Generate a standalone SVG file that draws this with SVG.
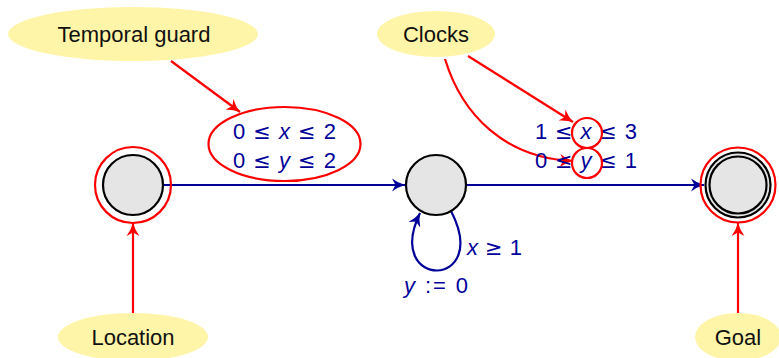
<svg xmlns="http://www.w3.org/2000/svg" width="779" height="358" viewBox="0 0 779 358">
<style>
.note{fill:#fff5a8;stroke:none}
.nt{font-family:"Liberation Sans",Arial,sans-serif;font-size:22px;fill:#111;text-anchor:middle}
.st{fill:#e5e5e5;stroke:#000;stroke-width:2.2}
.ring{fill:none;stroke:#000;stroke-width:2.2}
.red{fill:none;stroke:#f00;stroke-width:2.2}
.blue{fill:none;stroke:#000099;stroke-width:2.2}
.mt{font-family:"Liberation Sans",Arial,sans-serif;font-size:22px;fill:#000099}
.it{font-style:italic}
.op{font-family:"DejaVu Sans",sans-serif;font-size:21px}
</style>
<defs>
<marker id="ab" markerUnits="userSpaceOnUse" markerWidth="16" markerHeight="14" refX="13" refY="7" orient="auto">
<path d="M0,0.5 Q6,5 13,7 Q6,9 0,13.5 L3.5,7 Z" fill="#000099"/>
</marker>
<marker id="ar" markerUnits="userSpaceOnUse" markerWidth="16" markerHeight="14" refX="13" refY="7" orient="auto">
<path d="M0,0.5 Q6,5 13,7 Q6,9 0,13.5 L3.5,7 Z" fill="#f00"/>
</marker>
</defs>
<g id="connectors">
<line class="blue" x1="164" y1="185" x2="405" y2="185" marker-end="url(#ab)"/>
<line class="blue" x1="467" y1="185" x2="704" y2="185" marker-end="url(#ab)"/>
<path class="blue" d="M451,211 C492,290 383,290 420,213" marker-end="url(#ab)"/>
<line class="red" x1="171" y1="61" x2="240" y2="112" marker-end="url(#ar)"/>
<line class="red" x1="468" y1="56" x2="573" y2="122" marker-end="url(#ar)"/>
<path class="red" d="M445,59 C462,115 505,158 573,161" marker-end="url(#ar)"/>
<line class="red" x1="133" y1="313" x2="133" y2="223" marker-end="url(#ar)"/>
<line class="red" x1="738" y1="313" x2="738" y2="223" marker-end="url(#ar)"/>
</g>
<g id="temporal-guard">
<ellipse class="note" cx="133" cy="34" rx="125" ry="27"/>
<text class="nt" x="134" y="42">Temporal guard</text>
</g>
<g id="clocks">
<ellipse class="note" cx="436" cy="34" rx="59" ry="23"/>
<text class="nt" x="436" y="42">Clocks</text>
</g>
<g id="location-note">
<ellipse class="note" cx="133" cy="337" rx="75" ry="24"/>
<text class="nt" x="133" y="345">Location</text>
</g>
<g id="goal-note">
<ellipse class="note" cx="738" cy="337" rx="43" ry="24"/>
<text class="nt" x="738" y="345">Goal</text>
</g>
<g id="s0">
<circle class="red" cx="133" cy="185" r="38"/>
<circle class="st" cx="133" cy="185" r="30"/>
</g>
<g id="s1">
<circle class="st" cx="436" cy="185" r="30"/>
</g>
<g id="s2">
<circle class="red" cx="738" cy="185" r="37.5"/>
<circle class="st" cx="738" cy="185" r="32.5"/>
<circle class="ring" cx="738" cy="185" r="28.5"/>
</g>
<g id="guard-label">
<ellipse class="red" cx="284.5" cy="144" rx="76" ry="37"/>
<text class="mt" x="233" y="139" textLength="103" lengthAdjust="spacing">0 <tspan class="op">≤</tspan> <tspan class="it">x</tspan> <tspan class="op">≤</tspan> 2</text>
<text class="mt" x="233" y="168" textLength="103" lengthAdjust="spacing">0 <tspan class="op">≤</tspan> <tspan class="it">y</tspan> <tspan class="op">≤</tspan> 2</text>
</g>
<g id="invariant-label">
<text class="mt" x="535" y="139" textLength="102" lengthAdjust="spacing">1 <tspan class="op">≤</tspan> <tspan class="it">x</tspan> <tspan class="op">≤</tspan> 3</text>
<text class="mt" x="535" y="168" textLength="102" lengthAdjust="spacing">0 <tspan class="op">≤</tspan> <tspan class="it">y</tspan> <tspan class="op">≤</tspan> 1</text>
<circle class="red" cx="587" cy="133" r="15"/>
<circle class="red" cx="587" cy="163" r="15"/>
</g>
<g id="loop-label">
<text class="mt" x="467" y="255" textLength="55" lengthAdjust="spacing"><tspan class="it">x</tspan> <tspan class="op">≥</tspan> 1</text>
<text class="mt" x="404" y="293" textLength="64" lengthAdjust="spacing"><tspan class="it">y</tspan> := 0</text>
</g>
</svg>
